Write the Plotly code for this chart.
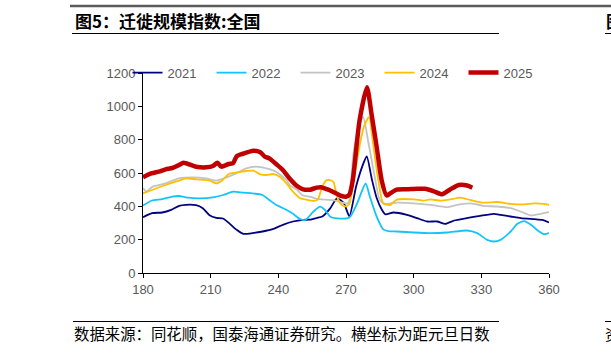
import plotly.graph_objects as go

# ---------------- data (day of year -> index) ----------------
days_2021 = [180,184,188.5,192.5,196,199,203.5,206.5,209.5,212.5,215.5,218.5,221.5,224.5,228.5,233,237.5,242,246.5,251,254,257,259.5,263,266,269,271.5,274.5,277.5,279.2,281.5,283.6,285.9,287.5,291,297,301.5,306,310.5,314,318,323.5,329.5,335.5,338.5,343,347.5,353.5,357,360]
vals_2021 = [335,359,363,379,403,409,407,389,347,331,327,295,259,235,239,249,263,289,309,319,320,330,339,388,448,420,340,520,650,700,560,450,380,352,363,349,329,309,309,295,315,329,343,355,349,339,329,323,319,303]

days_2022 = [180,184,188.5,193,196,199,205,211,215.5,220,224.5,228.5,233,236,239,243.5,246.5,249.5,252,255.5,258.5,260.7,263,266,271.5,275,278.7,280.6,283.6,286.5,289.5,292.5,300,307.5,315,323.7,328.2,332.6,335.6,338.5,343,346,349,352,355,357.8,360]
vals_2022 = [405,435,443,458,462,454,448,454,468,488,482,478,468,438,409,379,355,325,318,368,398,378,338,328,333,420,537,457,338,262,250,249,243,239,243,255,239,199,189,199,249,295,311,289,255,233,239]

days_2023 = [180,181.5,184.3,190,196,202,208,212.5,217,221.3,225.8,230.2,234.7,239,243.6,245,248,251,254,257,261,264.5,269,271,273.3,275.5,277.6,280,283,285,287.4,292.5,300,307.4,314.8,319.3,325.2,331,337,343,347.4,352,356.4,360]
vals_2023 = [510,490,518,538,568,574,568,554,574,598,628,638,628,608,558,527,502,465,458,445,440,437,420,420,717,870,937,777,558,438,415,422,418,409,395,409,418,403,399,389,369,345,355,365]

days_2024 = [180,184,190,196,199,203.5,209.5,212.5,215,218,221,226,229,232,234.7,237.6,240.6,243.6,246.5,249.5,252.4,255.4,257.5,259.5,261.5,263.5,264.5,266,268,270,271.5,273.2,276.2,278,280.2,282,284.3,286.5,289.5,292.5,300,304.4,307.4,311.8,316.3,320.7,325.2,331,337,343,349,353.4,357.8,360]
vals_2024 = [478,498,528,554,568,562,554,538,554,594,602,612,614,592,588,594,578,538,488,450,440,432,440,520,557,555,545,460,410,400,415,537,776,880,935,776,557,418,408,440,442,434,442,434,442,452,438,422,426,415,412,418,415,409]

days_2025 = [180,183,187,190,193,196,198,203.5,208,211,213,214.7,218,220,221.5,224,229,232,234,236,239,242,245,248,251,254,257,259,261,263,266,268,270,271.5,273,276,279.3,281.3,283.6,285.8,288,289.6,292.5,297,301.5,305,309,312.6,316,320,323.7,326]
vals_2025 = [574,595,608,622,630,648,662,638,634,642,662,638,654,660,700,714,733,725,698,688,654,618,567,525,502,500,512,515,505,495,475,462,458,470,557,915,1115,955,756,557,465,478,500,502,505,505,490,472,500,528,525,512]

x_ticks = [180, 210, 240, 270, 300, 330, 360]
y_ticks = [0, 200, 400, 600, 800, 1000, 1200]

series = [
    ("2021", days_2021, vals_2021, "#000080", 1.8),
    ("2022", days_2022, vals_2022, "#14C3FA", 1.8),
    ("2023", days_2023, vals_2023, "#C3C3C3", 1.8),
    ("2024", days_2024, vals_2024, "#FFC000", 1.8),
    ("2025", days_2025, vals_2025, "#C00000", 4.5),
]

# ---------------- figure ----------------
W, H = 611, 354
L, R, T, B = 143, 62, 73, 81
PW, PH = W - L - R, H - T - B

def px(x):
    return (x - L) / PW

def py(y):
    return (H - B - y) / PH

fig = go.Figure()
for name, d, v, c, w in series:
    fig.add_trace(go.Scatter(
        x=d, y=v, name=name, mode="lines",
        line=dict(color=c, width=w, shape="spline", smoothing=0.6),
    ))

tickfont = dict(family="Liberation Sans, Arial, sans-serif", size=13, color="#595959")

fig.update_layout(
    width=W, height=H,
    margin=dict(l=L, r=R, t=T, b=B, pad=0),
    paper_bgcolor="white", plot_bgcolor="white",
    showlegend=True,
    legend=dict(
        orientation="h", x=px(127.5), xanchor="left", y=1.002, yanchor="middle",
        font=tickfont, bgcolor="rgba(0,0,0,0)", borderwidth=0,
        entrywidth=39, entrywidthmode="pixels", itemwidth=30,
        tracegroupgap=0,
    ),
    xaxis=dict(
        range=[180, 360], tickvals=x_ticks, showgrid=False, zeroline=False,
        showline=True, linecolor="black", linewidth=1,
        ticks="outside", ticklen=4, tickcolor="black", tickwidth=1,
        tickfont=tickfont,
    ),
    yaxis=dict(
        range=[0, 1200], tickvals=y_ticks, showgrid=False, zeroline=False,
        showline=True, linecolor="black", linewidth=1,
        ticks="outside", ticklen=4, tickcolor="black", tickwidth=1,
        tickfont=tickfont,
    ),
)

shapes = [
    dict(x0=px(70), x1=px(611), y0=py(6), y1=py(6), color="#5a5a5a", width=2.5),
    dict(x0=px(72), x1=px(499), y0=py(33.5), y1=py(33.5), color="black", width=1),
    dict(x0=px(605), x1=px(611), y0=py(33.5), y1=py(33.5), color="black", width=1),
    dict(x0=px(73), x1=px(499), y0=py(321.5), y1=py(321.5), color="black", width=1),
    dict(x0=px(605), x1=px(611), y0=py(321.5), y1=py(321.5), color="black", width=1),
]
for s in shapes:
    fig.add_shape(type="line", xref="paper", yref="paper",
                  x0=s["x0"], x1=s["x1"], y0=s["y0"], y1=s["y1"],
                  line=dict(color=s["color"], width=s["width"]))

cjk = "Noto Sans CJK SC, sans-serif"
fig.add_annotation(xref="paper", yref="paper", x=px(73), y=py(20),
                   xanchor="left", yanchor="middle", showarrow=False,
                   text="<b>图5：迁徙规模指数:全国</b>",
                   font=dict(family=cjk, size=17, color="black"))
fig.add_annotation(xref="paper", yref="paper", x=px(604), y=py(20),
                   xanchor="left", yanchor="middle", showarrow=False,
                   text="<b>图</b>", font=dict(family=cjk, size=17, color="black"))
fig.add_annotation(xref="paper", yref="paper", x=px(72), y=py(333),
                   xanchor="left", yanchor="middle", showarrow=False,
                   text="数据来源：同花顺，国泰海通证券研究。横坐标为距元旦日数",
                   font=dict(family=cjk, size=15.4, color="black"))
fig.add_annotation(xref="paper", yref="paper", x=px(603), y=py(333),
                   xanchor="left", yanchor="middle", showarrow=False,
                   text="资", font=dict(family=cjk, size=15, color="black"))

fig.write_html("out.html")
